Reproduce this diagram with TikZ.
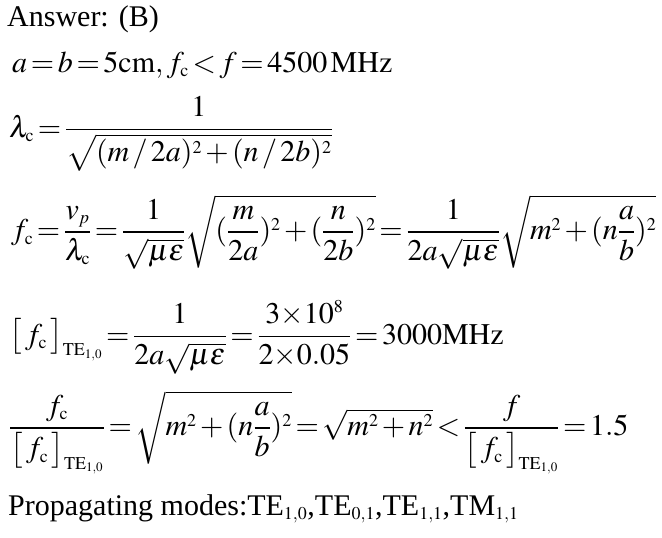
\documentclass[tikz,border=0pt]{standalone}
\usepackage{amsmath}
\usepackage{mathptmx}
\usepackage{fontspec}
\setmainfont{Liberation Serif}
\DeclareMathSizes{30}{30}{18}{13}
\AtBeginDocument{\thickmuskip=2.2mu\relax\medmuskip=2mu\relax}
\newcommand{\cc}{\mathrm{c}}
\newcommand{\tesub}{\mathrm{TE}_{1,0}}

\begin{document}
\begin{tikzpicture}[x=1pt,y=-1pt,
    row/.style={anchor=base west,inner sep=0pt,font=\fontsize{30}{36}\selectfont}]
  \useasboundingbox (0,0) rectangle (662,538);
  \node [row] (answer) at (7,27) {Answer: (B)};
  \node [row] (given) at (12,72) {$a=b=5\mathrm{cm},f_\cc<f=4500\,\mathrm{MHz}$};
  \node [row] (lambda) at (9,137) {$\lambda_\cc=\dfrac{1}{\sqrt{(m\,/\,2a)^2+(n\,/\,2b)^2}}$};
  \node [row] (fc) at (11,239.5) {$f_\cc=\dfrac{v_p}{\lambda_\cc}=\dfrac{1}{\sqrt{\mu\varepsilon}}\sqrt{(\dfrac{m}{2a})^2+(\dfrac{n}{2b})^2}=\dfrac{1}{2a\sqrt{\mu\varepsilon}}\sqrt{m^2+(n\dfrac{a}{b})^2}$};
  \node [row] (te) at (9,344) {$\bigl[\,f_\cc\,\bigr]_{\tesub}=\dfrac{1}{2a\sqrt{\mu\varepsilon}}=\dfrac{3{\times}10^8}{2{\times}0.05}=3000\mathrm{MHz}$};
  \node [row] (ratio) at (9,435.5) {$\dfrac{f_\cc}{\bigl[\,f_\cc\,\bigr]_{\tesub}}=\sqrt{m^2+(n\dfrac{a}{b})^2}=\sqrt{m^2+n^2}<\dfrac{f}{\bigl[\,f_\cc\,\bigr]_{\tesub}}=1.5$};
  \node [row] (modes) at (8,515) {Propagating modes:TE$_{1,0}$,TE$_{0,1}$,TE$_{1,1}$,TM$_{1,1}$};
\end{tikzpicture}
\end{document}
